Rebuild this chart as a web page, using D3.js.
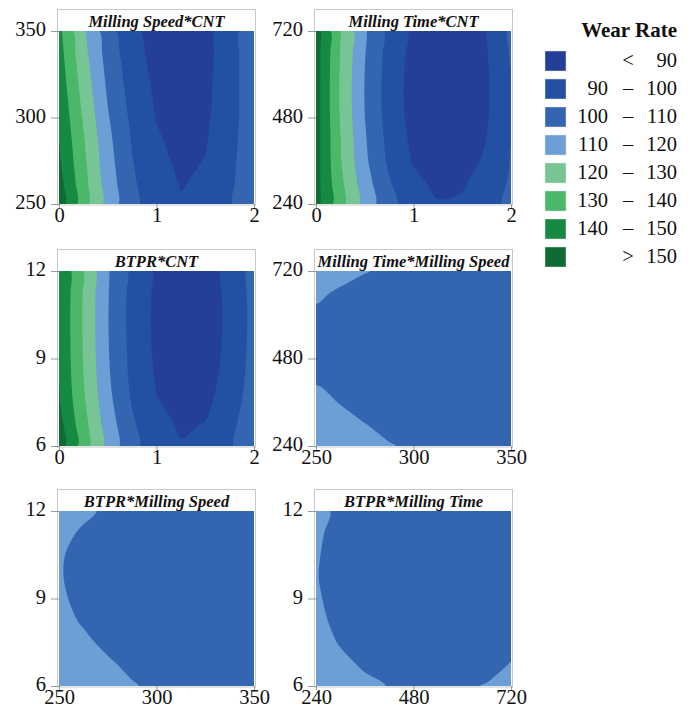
<!DOCTYPE html>
<html><head><meta charset="utf-8">
<script src="https://cdn.jsdelivr.net/npm/d3@7"></script>
<style>body{margin:0;background:#fff} svg{display:block}</style>
</head><body>
<svg id="chart" width="691" height="716"></svg>
<script>
// ---------- data ----------
const bandThresholds = [90, 100, 110, 120, 130, 140, 150];
const bandColors = ["#243f98", "#2251a3", "#3465b0", "#6b9fd5", "#77c594", "#4ab868", "#168a42", "#0f6a35"];
const legendTitle = "Wear Rate";
const legendLeft  = ["", "90", "100", "110", "120", "130", "140", ""];
const legendMid   = ["<", "–", "–", "–", "–", "–", "–", ">"];
const legendRight = ["90", "100", "110", "120", "130", "140", "150", "150"];

const panelTitles = ["Milling Speed*CNT", "Milling Time*CNT", "BTPR*CNT",
                     "Milling Time*Milling Speed", "BTPR*Milling Speed", "BTPR*Milling Time"];

// grid sample positions (columns = x factor, rows = y factor, bottom to top)
const cntLevels   = [0, 0.25, 0.5, 0.75, 1, 1.25, 1.5, 1.75, 2];
const speedLevels = [250, 262.5, 275, 287.5, 300, 312.5, 325, 337.5, 350];
const timeLevels  = [240, 300, 360, 420, 480, 540, 600, 660, 720];
const btprLevels  = [6, 6.75, 7.5, 8.25, 9, 9.75, 10.5, 11.25, 12];

const cntTicks   = [0, 1, 2];
const speedTicks = [250, 300, 350];
const timeTicks  = [240, 480, 720];
const btprTicks  = [6, 9, 12];

// wear rate grids (rows from lowest y level to highest)
const wearSpeedCnt = [
  [156.0, 134.6, 116.1, 102.6, 94.1, 90.6, 92.1, 98.6, 109.5],
  [153.8, 133.6, 115.1, 101.6, 93.1, 89.6, 91.1, 97.6, 109.1],
  [151.5, 132.2, 113.8, 100.4, 92.0, 88.6, 90.2, 96.8, 108.4],
  [150.0, 130.8, 112.5, 99.2, 90.9, 87.6, 89.3, 96.0, 107.7],
  [148.5, 129.0, 110.9, 97.8, 89.7, 86.6, 88.5, 95.4, 107.3],
  [147.0, 127.0, 109.2, 96.4, 88.6, 85.8, 88.0, 95.2, 107.4],
  [145.5, 125.1, 107.6, 95.1, 87.6, 85.1, 87.6, 95.1, 107.6],
  [144.0, 123.2, 106.0, 93.8, 86.6, 84.4, 87.2, 95.0, 107.8],
  [142.5, 121.3, 104.4, 92.5, 85.6, 83.7, 86.8, 94.9, 108.0]
];
const wearTimeCnt = [
  [153.5, 133.9, 116.1, 103.0, 94.5, 90.6, 91.3, 96.7, 102.0],
  [153.8, 132.5, 114.3, 100.8, 92.1, 88.1, 88.8, 94.3, 101.2],
  [154.0, 130.7, 112.0, 98.2, 89.2, 85.1, 85.9, 91.5, 100.5],
  [154.2, 130.3, 111.1, 96.9, 87.7, 83.5, 84.3, 90.1, 99.8],
  [154.3, 129.3, 110.1, 95.9, 86.7, 82.5, 83.3, 89.1, 99.2],
  [154.4, 128.9, 109.7, 95.5, 86.3, 82.1, 82.9, 88.7, 99.0],
  [154.5, 129.1, 109.9, 95.7, 86.5, 82.3, 83.1, 88.9, 99.5],
  [154.5, 129.7, 110.5, 96.3, 87.1, 82.9, 83.7, 89.5, 101.0],
  [154.6, 130.4, 111.2, 97.0, 87.8, 83.6, 84.4, 90.2, 102.0]
];
const wearBtprCnt = [
  [156.0, 135.3, 116.6, 102.9, 94.2, 90.5, 91.8, 98.1, 109.4],
  [153.5, 133.8, 115.1, 101.4, 92.7, 89.0, 90.3, 96.6, 107.9],
  [151.0, 131.7, 113.0, 99.3, 90.6, 86.9, 88.2, 94.5, 105.8],
  [150.0, 130.3, 111.6, 97.9, 89.2, 85.5, 86.8, 93.1, 104.4],
  [149.5, 129.6, 110.9, 97.2, 88.5, 84.8, 86.1, 92.4, 103.7],
  [149.3, 129.2, 110.5, 96.8, 88.1, 84.4, 85.7, 92.0, 103.3],
  [149.3, 129.1, 110.4, 96.7, 88.0, 84.3, 85.6, 91.9, 103.2],
  [149.5, 129.3, 110.6, 96.9, 88.2, 84.5, 85.8, 92.1, 103.4],
  [149.8, 129.6, 110.9, 97.2, 88.5, 84.8, 86.1, 92.4, 103.7]
];
const wearTimeSpeed = [
  [114.7, 113.1, 111.6, 110.3, 109.2, 108.3, 107.6, 107.1, 106.7],
  [113.2, 111.6, 110.1, 108.8, 107.7, 106.8, 106.1, 105.6, 105.2],
  [111.4, 109.8, 108.3, 107.0, 105.9, 105.0, 104.3, 103.8, 103.4],
  [109.6, 108.0, 106.5, 105.2, 104.1, 103.2, 102.5, 102.0, 101.6],
  [108.5, 106.9, 105.4, 104.1, 103.0, 102.1, 101.4, 100.9, 100.5],
  [108.3, 106.7, 105.2, 103.9, 102.8, 101.9, 101.2, 100.7, 100.3],
  [109.1, 107.5, 106.0, 104.7, 103.6, 102.7, 102.0, 101.5, 101.1],
  [110.9, 109.3, 107.8, 106.5, 105.4, 104.5, 103.8, 103.3, 102.9],
  [113.4, 111.8, 110.3, 109.0, 107.9, 107.0, 106.3, 105.8, 105.4]
];
const wearBtprSpeed = [
  [114.7, 113.1, 111.6, 110.3, 109.2, 108.3, 107.6, 107.1, 106.7],
  [113.6, 112.0, 110.5, 109.2, 108.1, 107.2, 106.5, 106.0, 105.6],
  [112.3, 110.7, 109.2, 107.9, 106.8, 105.9, 105.2, 104.7, 104.3],
  [111.2, 109.6, 108.1, 106.8, 105.7, 104.8, 104.1, 103.6, 103.2],
  [110.6, 109.0, 107.5, 106.2, 105.1, 104.2, 103.5, 103.0, 102.6],
  [110.3, 108.7, 107.2, 105.9, 104.8, 103.9, 103.2, 102.7, 102.3],
  [110.4, 108.8, 107.3, 106.0, 104.9, 104.0, 103.3, 102.8, 102.4],
  [111.1, 109.5, 108.0, 106.7, 105.6, 104.7, 104.0, 103.5, 103.1],
  [112.4, 110.8, 109.3, 108.0, 106.9, 106.0, 105.3, 104.8, 104.4]
];
const wearBtprTime = [
  [116.0, 113.3, 111.2, 109.8, 109.0, 108.8, 109.2, 110.3, 112.0],
  [114.0, 111.3, 109.3, 107.8, 107.0, 106.8, 107.3, 108.3, 110.2],
  [112.3, 109.6, 107.6, 106.1, 105.3, 105.1, 105.6, 106.6, 108.3],
  [111.3, 108.6, 106.5, 105.1, 104.3, 104.1, 104.5, 105.6, 107.3],
  [110.7, 108.0, 105.9, 104.5, 103.7, 103.5, 103.9, 105.0, 106.7],
  [110.3, 107.6, 105.6, 104.1, 103.3, 103.1, 103.6, 104.6, 106.3],
  [110.5, 107.8, 105.8, 104.3, 103.5, 103.3, 103.8, 104.8, 106.5],
  [110.9, 108.2, 106.2, 104.7, 103.9, 103.7, 104.2, 105.2, 106.9],
  [111.6, 108.9, 106.8, 105.4, 104.6, 104.4, 104.8, 105.9, 107.6]
];

// ---------- layout ----------
const colX = [[59, 254], [316, 511]];
const rowY = [[31, 204], [271, 446], [511, 686]];
const titleH = 21;
const serif = "'Liberation Serif', 'Times New Roman', serif";

const panels = [
  {title: panelTitles[0], xs: cntLevels,   ys: speedLevels, grid: wearSpeedCnt,  xt: cntTicks,   yt: speedTicks, c: 0, r: 0},
  {title: panelTitles[1], xs: cntLevels,   ys: timeLevels,  grid: wearTimeCnt,   xt: cntTicks,   yt: timeTicks,  c: 1, r: 0},
  {title: panelTitles[2], xs: cntLevels,   ys: btprLevels,  grid: wearBtprCnt,   xt: cntTicks,   yt: btprTicks,  c: 0, r: 1},
  {title: panelTitles[3], xs: speedLevels, ys: timeLevels,  grid: wearTimeSpeed, xt: speedTicks, yt: timeTicks,  c: 1, r: 1},
  {title: panelTitles[4], xs: speedLevels, ys: btprLevels,  grid: wearBtprSpeed, xt: speedTicks, yt: btprTicks,  c: 0, r: 2},
  {title: panelTitles[5], xs: timeLevels,  ys: btprLevels,  grid: wearBtprTime,  xt: timeTicks,  yt: btprTicks,  c: 1, r: 2}
];

const svg = d3.select("#chart");
const defs = svg.append("defs");
const ringLine = d3.line().curve(d3.curveCatmullRomClosed.alpha(0.5));

panels.forEach((p, idx) => {
  const [x0, x1] = colX[p.c];
  const [y0, y1] = rowY[p.r];
  const nx = p.xs.length, ny = p.ys.length;
  const x = d3.scaleLinear().domain([p.xs[0], p.xs[nx - 1]]).range([x0, x1]);
  const y = d3.scaleLinear().domain([p.ys[0], p.ys[ny - 1]]).range([y1, y0]);
  const stepX = (p.xs[nx - 1] - p.xs[0]) / (nx - 1);
  const stepY = (p.ys[ny - 1] - p.ys[0]) / (ny - 1);
  const project = ([gx, gy]) => [x(p.xs[0] + (gx - 0.5) * stepX), y(p.ys[0] + (gy - 0.5) * stepY)];
  const smoothPath = geom => geom.coordinates.map(poly => poly.map(ring => {
    const pts = ring.slice(0, ring.length - 1).map(project);
    return ringLine(pts);
  }).join("")).join("");
  const values = p.grid.flat();
  const contours = d3.contours().size([nx, ny]);

  const g = svg.append("g");

  // frame incl. title strip
  g.append("rect")
    .attr("x", x0 - 1.5).attr("y", y0 - titleH - 0.5)
    .attr("width", x1 - x0 + 3).attr("height", y1 - y0 + titleH + 1.5)
    .attr("fill", "#fff").attr("stroke", "#c8c8c8").attr("stroke-width", 1);

  g.append("text")
    .attr("x", (x0 + x1) / 2).attr("y", y0 - 4)
    .attr("text-anchor", "middle")
    .attr("font-family", serif).attr("font-size", 16.5)
    .attr("font-weight", "bold").attr("font-style", "italic")
    .attr("fill", "#111")
    .text(p.title);

  const clipId = "clip" + idx;
  defs.append("clipPath").attr("id", clipId)
    .append("rect").attr("x", x0).attr("y", y0).attr("width", x1 - x0).attr("height", y1 - y0);

  const plot = g.append("g").attr("clip-path", `url(#${clipId})`);
  plot.append("rect").attr("x", x0).attr("y", y0).attr("width", x1 - x0).attr("height", y1 - y0)
    .attr("fill", bandColors[0]);
  bandThresholds.forEach((t, i) => {
    plot.append("path")
      .attr("d", smoothPath(contours.contour(values, t)))
      .attr("fill-rule", "evenodd")
      .attr("fill", bandColors[i + 1]);
  });

  // axes
  const ay = g.append("g").attr("transform", `translate(${x0},0)`)
    .call(d3.axisLeft(y).tickValues(p.yt).tickSize(8).tickPadding(5).tickFormat(d3.format("d")));
  const ax = g.append("g").attr("transform", `translate(0,${y1})`)
    .call(d3.axisBottom(x).tickValues(p.xt).tickSize(4).tickPadding(0).tickFormat(d3.format("d")));
  [ay, ax].forEach(a => {
    a.select(".domain").remove();
    a.selectAll(".tick line").attr("stroke", "#999");
    a.selectAll(".tick text").attr("font-family", serif).attr("font-size", 20.5).attr("fill", "#111");
  });
  ay.selectAll(".tick text").attr("dy", "0.22em");
  ax.selectAll(".tick text").attr("dy", "0.68em");
});

// ---------- legend ----------
const lg = svg.append("g");
lg.append("text").attr("x", 677).attr("y", 37).attr("text-anchor", "end")
  .attr("font-family", serif).attr("font-size", 21).attr("font-weight", "bold").attr("fill", "#111")
  .text(legendTitle);
bandColors.forEach((col, i) => {
  const top = 51 + 28 * i;
  lg.append("rect").attr("x", 545).attr("y", top).attr("width", 21).attr("height", 20)
    .attr("fill", col).attr("stroke", "#ddd").attr("stroke-width", 0.5);
  const base = top + 16;
  lg.append("text").attr("x", 608).attr("y", base).attr("text-anchor", "end")
    .attr("font-family", serif).attr("font-size", 20.5).attr("fill", "#111").text(legendLeft[i]);
  lg.append("text").attr("x", 628).attr("y", base).attr("text-anchor", "middle")
    .attr("font-family", serif).attr("font-size", 20.5).attr("fill", "#111").text(legendMid[i]);
  lg.append("text").attr("x", 677).attr("y", base).attr("text-anchor", "end")
    .attr("font-family", serif).attr("font-size", 20.5).attr("fill", "#111").text(legendRight[i]);
});
</script>
</body></html>
